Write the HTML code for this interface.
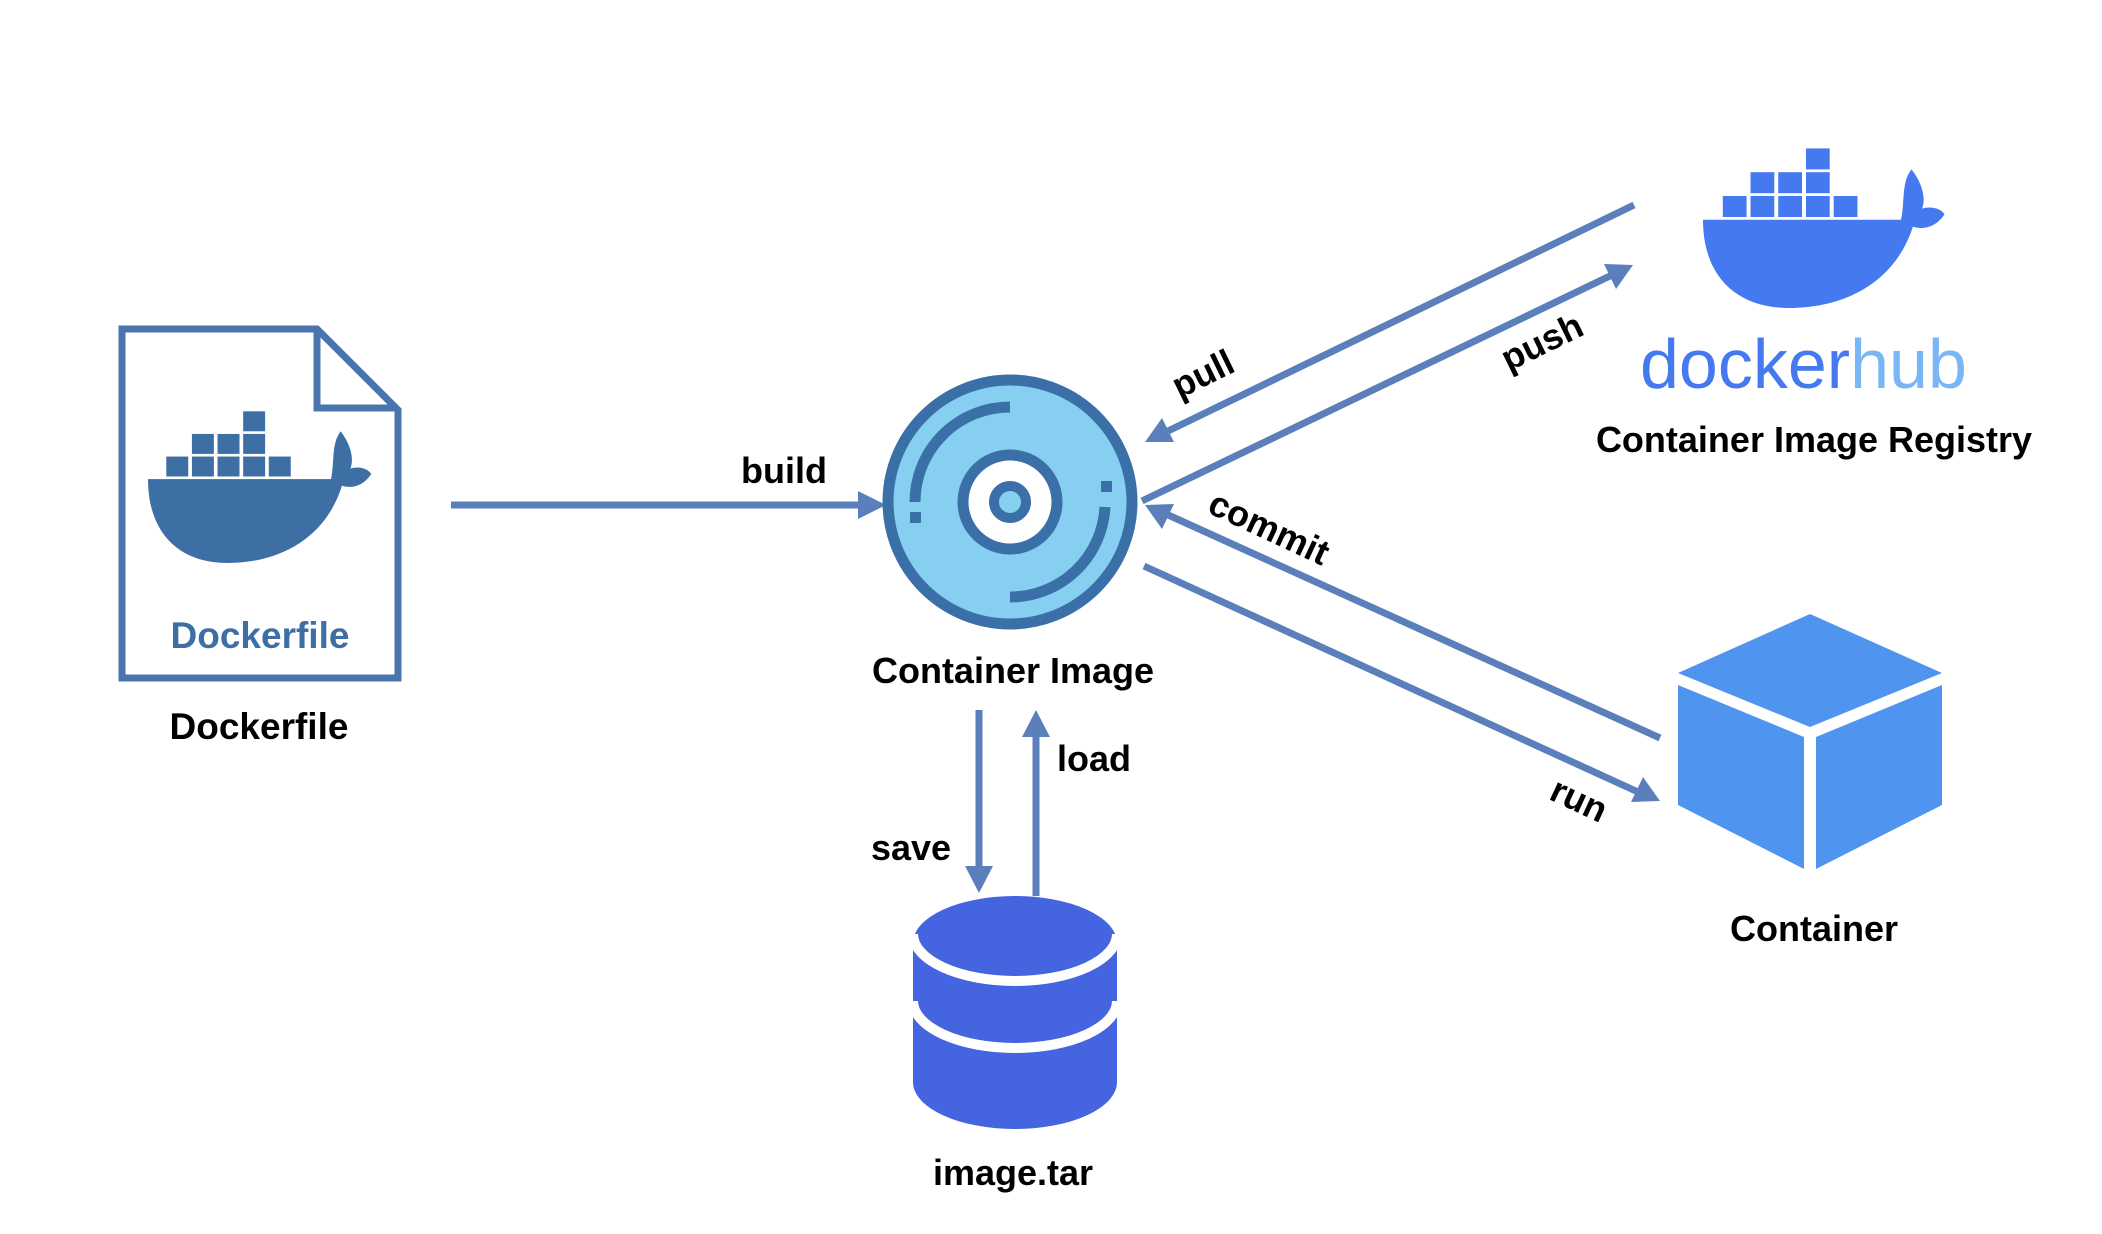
<!DOCTYPE html>
<html><head><meta charset="utf-8"><style>
html,body{margin:0;padding:0;background:#fff;}
svg{display:block}
text{font-family:"Liberation Sans",sans-serif;font-weight:bold;}
</style></head><body>
<svg width="2102" height="1234" viewBox="0 0 2102 1234" xmlns="http://www.w3.org/2000/svg">
<defs>
<g id="whale">
<path d="M0,52 L150,52 C153,40 150,25 158,16 C166,26 169,36 166,44 C173,42 180,44 183,48 C176,58 166,59 159,57 C146,95 110,115 65,115 C25,115 0,92 0,52 Z"/>
<rect x="15" y="35" width="18" height="15"/><rect x="36" y="35" width="18" height="15"/><rect x="57" y="35" width="18" height="15"/><rect x="78" y="35" width="18" height="15"/><rect x="99" y="35" width="18" height="15"/>
<rect x="36" y="18" width="18" height="15"/><rect x="57" y="18" width="18" height="15"/><rect x="78" y="18" width="18" height="15"/>
<rect x="78" y="1" width="18" height="15"/>
</g>
</defs>

<!-- Dockerfile doc -->
<path d="M122,329 L317,329 L398,410 L398,678 L122,678 Z" fill="none" stroke="#4a74ad" stroke-width="7"/>
<path d="M317,329 L317,408 L398,408" fill="none" stroke="#4a74ad" stroke-width="7"/>
<g fill="#3d6fa5" transform="translate(148,410) scale(1.22,1.33)"><use href="#whale"/></g>
<text x="260" y="648" font-size="37" fill="#3d6fa5" text-anchor="middle">Dockerfile</text>
<text x="259" y="739" font-size="37" fill="#000" text-anchor="middle">Dockerfile</text>

<!-- arrows -->
<g stroke="#5b7fba" stroke-width="7" fill="#5b7fba">
<line x1="451" y1="505" x2="862" y2="505"/>
<polygon points="886,505 858,491 858,519" stroke="none"/>
<line x1="1634" y1="205" x2="1166" y2="432"/>
<polygon points="1145,442 1162,418 1174,442" stroke="none"/>
<line x1="1142" y1="501" x2="1612" y2="275"/>
<polygon points="1633,265 1604,264 1616,289" stroke="none"/>
<line x1="1660" y1="738" x2="1166" y2="514"/>
<polygon points="1145,505 1174,504 1162,529" stroke="none"/>
<line x1="1144" y1="566" x2="1638" y2="792"/>
<polygon points="1660,801 1631,802 1643,777" stroke="none"/>
<line x1="979" y1="710" x2="979" y2="870"/>
<polygon points="979,893 965,866 993,866" stroke="none"/>
<line x1="1036" y1="896" x2="1036" y2="733"/>
<polygon points="1036,710 1022,737 1050,737" stroke="none"/>
</g>
<text x="784" y="483" font-size="36" text-anchor="middle">build</text>
<text x="911" y="860" font-size="36" text-anchor="middle">save</text>
<text x="1094" y="771" font-size="36" text-anchor="middle">load</text>
<text x="1203" y="386" font-size="36" text-anchor="middle" transform="rotate(-26 1203 374)">pull</text>
<text x="1542" y="354" font-size="36" text-anchor="middle" transform="rotate(-26 1542 342)">push</text>
<text x="1269" y="540" font-size="36" text-anchor="middle" transform="rotate(25 1269 528)">commit</text>
<text x="1579" y="812" font-size="36" text-anchor="middle" transform="rotate(25 1579 800)">run</text>

<!-- disc -->
<circle cx="1010" cy="502" r="122" fill="#87cff0" stroke="#3a6fa8" stroke-width="11"/>
<circle cx="1010" cy="502" r="47" fill="#fff" stroke="#3a6fa8" stroke-width="11"/>
<circle cx="1010" cy="502" r="16" fill="#87cff0" stroke="#3a6fa8" stroke-width="10"/>
<path d="M1010,407 A95,95 0 0 0 915,502" fill="none" stroke="#3a6fa8" stroke-width="11"/>
<path d="M1010,597 A95,95 0 0 0 1105,507" fill="none" stroke="#3a6fa8" stroke-width="11"/>
<rect x="910" y="512" width="11" height="11" fill="#3a6fa8"/>
<rect x="1101" y="481" width="11" height="11" fill="#3a6fa8"/>
<text x="1013" y="683" font-size="36" text-anchor="middle">Container Image</text>

<!-- cylinder -->
<g fill="#4464e0">
<ellipse cx="1015" cy="943" rx="102" ry="47"/>
<rect x="913" y="943" width="204" height="139"/>
<ellipse cx="1015" cy="1082" rx="102" ry="47"/>
</g>
<path d="M913,934 A102,47 0 0 0 1117,934" fill="none" stroke="#fff" stroke-width="10"/>
<path d="M913,1001 A102,47 0 0 0 1117,1001" fill="none" stroke="#fff" stroke-width="10"/>
<text x="1013" y="1185" font-size="36" text-anchor="middle">image.tar</text>

<!-- hub -->
<g fill="#4479f0" transform="translate(1703,147) scale(1.32,1.4)"><use href="#whale"/></g>
<text x="1640" y="388" font-size="70" style="font-weight:normal" fill="#4479f0">docker<tspan fill="#7ab6f5">hub</tspan></text>
<text x="1814" y="452" font-size="36" text-anchor="middle">Container Image Registry</text>

<!-- cube -->
<g transform="translate(-6,0)">
<polygon points="1816,614 1948,673 1816,727 1684,673" fill="#4f94ef"/>
<polygon points="1684,685 1810,737 1810,869 1684,805" fill="#4f94ef"/>
<polygon points="1822,737 1948,685 1948,805 1822,869" fill="#4f94ef"/>
</g>
<text x="1814" y="941" font-size="36" text-anchor="middle">Container</text>
</svg>
</body></html>
